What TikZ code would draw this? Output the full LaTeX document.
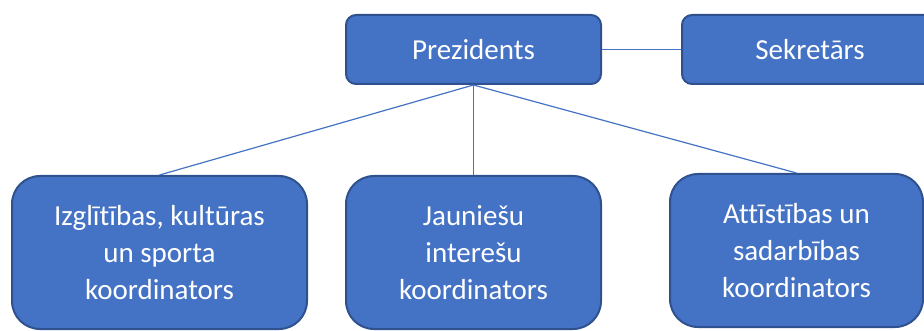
\documentclass[tikz,border=0pt]{standalone}
\usepackage{fontspec}
\setmainfont{Carlito}[Ligatures={NoCommon}]
\definecolor{boxfill}{HTML}{4472C4}
\definecolor{boxline}{HTML}{2F528F}
\begin{document}
\begin{tikzpicture}[x=1pt,y=-1pt,
  topbox/.style={draw=boxline,line width=2pt,fill=boxfill,rounded corners=10pt,text=white,font=\fontsize{29}{37}\selectfont,align=center,inner sep=0pt},
  lowbox/.style={topbox,rounded corners=28pt},
  link/.style={draw=boxfill,line width=1.2pt}]
\useasboundingbox (0,0) rectangle (924,331);
\node[topbox,minimum width=255pt,minimum height=69pt] (pres) at (473.5,49.5) {Prezidents};
\node[topbox,minimum width=256pt,minimum height=69pt] (sek) at (810,49.5) {Sekretārs};
\node[lowbox,minimum width=295pt,minimum height=153pt] (izg) at (159.5,252.5) {Izglītības, kultūras\\un sporta\\koordinators};
\node[lowbox,minimum width=255pt,minimum height=153pt] (jau) at (473.5,252.5) {Jauniešu\\interešu\\koordinators};
\node[lowbox,minimum width=253pt,minimum height=153pt] (att) at (796.5,250.5) {Attīstības un\\sadarbības\\koordinators};
\draw[link] (pres.east) -- (sek.west);
\draw[link] (pres.south) -- (izg.north);
\draw[link] (pres.south) -- (jau.north);
\draw[link] (pres.south) -- (att.north);
\end{tikzpicture}
\end{document}
